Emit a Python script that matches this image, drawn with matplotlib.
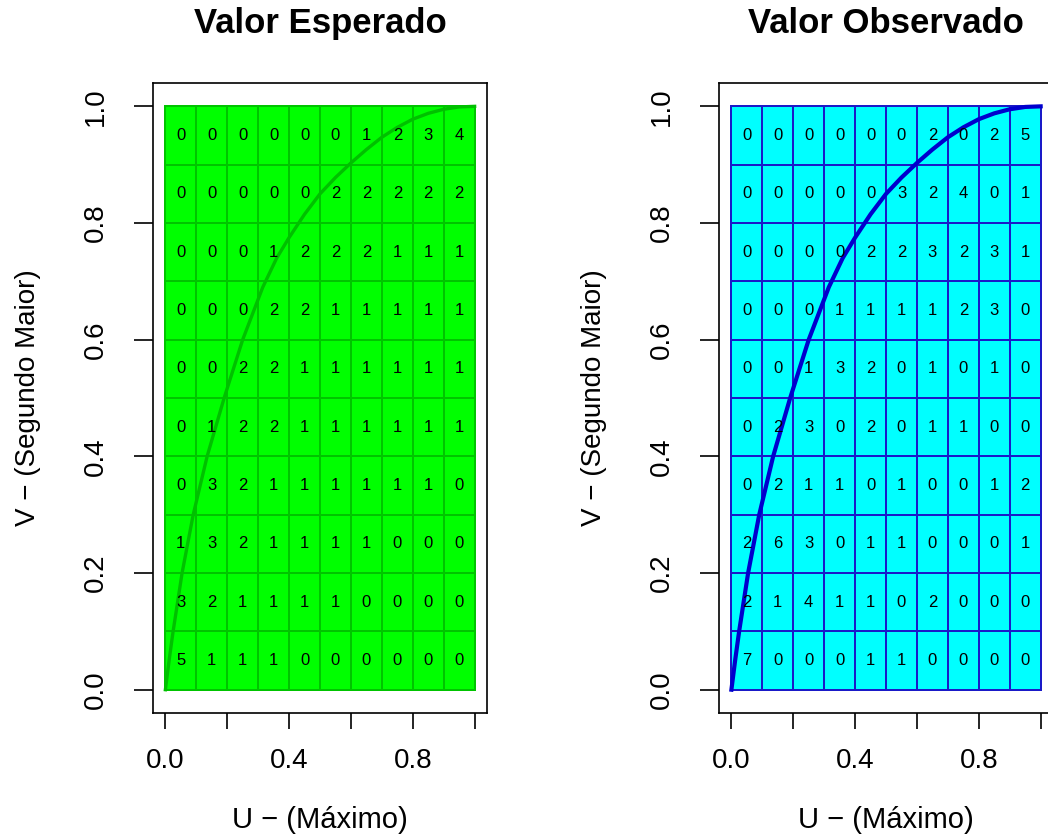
import numpy as np
import matplotlib.pyplot as plt
from matplotlib.colors import ListedColormap

plt.rcParams["font.family"] = ["Liberation Sans", "DejaVu Sans"]

# grid of U (max) x V (second largest), 10 x 10 cells
u_edges = [0.0, 0.1, 0.2, 0.3, 0.4, 0.5, 0.6, 0.7, 0.8, 0.9, 1.0]
v_edges = [0.0, 0.1, 0.2, 0.3, 0.4, 0.5, 0.6, 0.7, 0.8, 0.9, 1.0]

# counts, rows listed from top (v 0.9-1.0) to bottom (v 0.0-0.1)
esperado = [
    [0, 0, 0, 0, 0, 0, 1, 2, 3, 4],
    [0, 0, 0, 0, 0, 2, 2, 2, 2, 2],
    [0, 0, 0, 1, 2, 2, 2, 1, 1, 1],
    [0, 0, 0, 2, 2, 1, 1, 1, 1, 1],
    [0, 0, 2, 2, 1, 1, 1, 1, 1, 1],
    [0, 1, 2, 2, 1, 1, 1, 1, 1, 1],
    [0, 3, 2, 1, 1, 1, 1, 1, 1, 0],
    [1, 3, 2, 1, 1, 1, 1, 0, 0, 0],
    [3, 2, 1, 1, 1, 1, 0, 0, 0, 0],
    [5, 1, 1, 1, 0, 0, 0, 0, 0, 0],
]
observado = [
    [0, 0, 0, 0, 0, 0, 2, 0, 2, 5],
    [0, 0, 0, 0, 0, 3, 2, 4, 0, 1],
    [0, 0, 0, 0, 2, 2, 3, 2, 3, 1],
    [0, 0, 0, 1, 1, 1, 1, 2, 3, 0],
    [0, 0, 1, 3, 2, 0, 1, 0, 1, 0],
    [0, 2, 3, 0, 2, 0, 1, 1, 0, 0],
    [0, 2, 1, 1, 0, 1, 0, 0, 1, 2],
    [2, 6, 3, 0, 1, 1, 0, 0, 0, 1],
    [2, 1, 4, 1, 1, 0, 2, 0, 0, 0],
    [7, 0, 0, 0, 1, 1, 0, 0, 0, 0],
]

# boundary curve, points
curve_u = [0.0, 0.012, 0.025, 0.054, 0.09, 0.135, 0.19, 0.25, 0.315, 0.36, 0.4,
           0.45, 0.5, 0.55, 0.6, 0.65, 0.7, 0.75, 0.8, 0.85, 0.9, 0.95, 1.0]
curve_v = [0.0, 0.05, 0.1, 0.2, 0.3, 0.4, 0.5, 0.6, 0.69, 0.74, 0.775,
           0.815, 0.85, 0.878, 0.903, 0.926, 0.947, 0.964, 0.978, 0.988, 0.995, 0.999, 1.0]

ticks = [0.0, 0.2, 0.4, 0.6, 0.8, 1.0]
xticklabels = ["0.0", "", "0.4", "", "0.8", ""]
yticklabels = ["0.0", "0.2", "0.4", "0.6", "0.8", "1.0"]

fig = plt.figure(figsize=(10.48, 8.36), dpi=100)


def painel(rect, counts, titulo, fill, edge, line, edge_lw, line_lw):
    ax = fig.add_axes(rect)
    grid = np.array(counts)[::-1]
    ax.pcolormesh(u_edges, v_edges, np.zeros_like(grid), cmap=ListedColormap([fill]),
                  edgecolors=edge, linewidth=edge_lw)
    for i in range(10):
        for j in range(10):
            cx = (u_edges[j] + u_edges[j + 1]) / 2
            cy = (v_edges[i] + v_edges[i + 1]) / 2
            ax.text(cx, cy, str(grid[i, j]), ha="center", va="center", fontsize=12)
    ax.plot(curve_u, curve_v, color=line, lw=line_lw, solid_joinstyle="round")
    ax.set_xlim(-0.04, 1.04)
    ax.set_ylim(-0.04, 1.04)
    ax.set_xticks(ticks)
    ax.set_xticklabels(xticklabels)
    ax.set_yticks(ticks)
    ax.set_yticklabels(yticklabels, rotation=90, va="center")
    ax.tick_params(axis="x", length=11.5, width=1.2, pad=14, labelsize=20)
    ax.tick_params(axis="y", length=14, width=1.2, pad=18, labelsize=20)
    for s in ax.spines.values():
        s.set_linewidth(1.2)
    ax.text(0.5, 1.079, titulo, transform=ax.transAxes, ha="center", va="baseline",
            fontsize=25, fontweight="bold")
    ax.text(0.5, -0.1825, "U \u2212 (Máximo)", transform=ax.transAxes, ha="center",
            va="baseline", fontsize=21)
    ax.text(-0.353, 0.5, "V \u2212 (Segundo Maior)", transform=ax.transAxes, ha="center",
            va="baseline", rotation=90, rotation_mode="anchor", fontsize=20)
    return ax


painel([0.1460, 0.1471, 0.3187, 0.7536], esperado, "Valor Esperado",
       "#00FF00", "#00C400", "#00C000", 1.2, 2.4)
painel([0.6861, 0.1471, 0.3187, 0.7536], observado, "Valor Observado",
       "#00FFFF", "#1A1AC8", "#0000CD", 1.4, 3.0)

plt.savefig("out.png", dpi=100)
plt.close()
